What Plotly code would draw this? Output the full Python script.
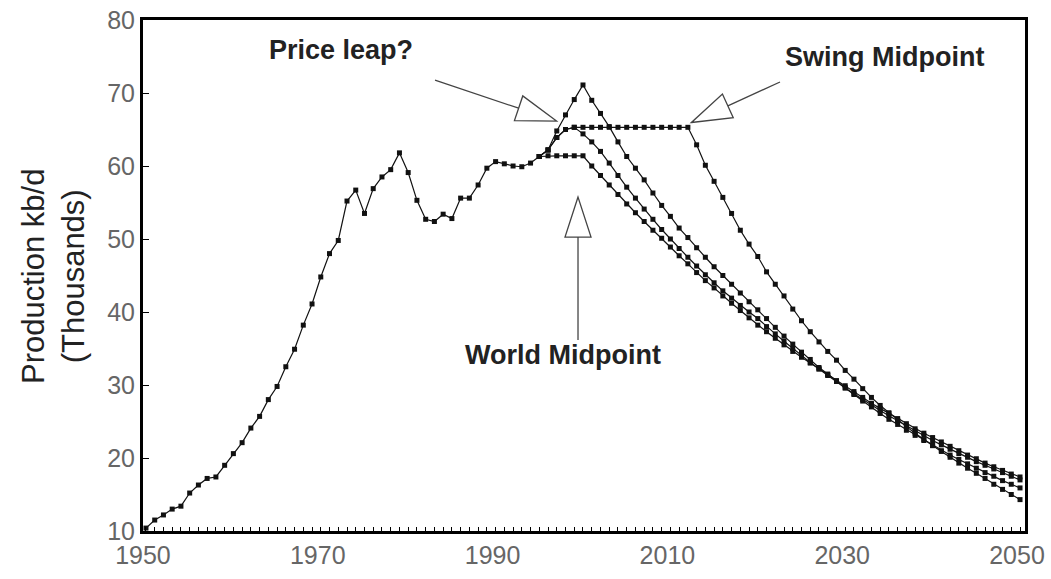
import math
import plotly.graph_objects as go

# world oil production, thousand kb/d (= million b/d)
hist_years = list(range(1950, 1996))
hist_prod = [10.4, 11.5, 12.2, 13.0, 13.4, 15.2, 16.3, 17.2, 17.4, 19.0,
             20.6, 22.1, 24.1, 25.7, 28.0, 29.8, 32.5, 34.9, 38.2, 41.1,
             44.8, 48.0, 49.8, 55.2, 56.7, 53.5, 56.9, 58.5, 59.5, 61.8,
             59.1, 55.3, 52.7, 52.4, 53.4, 52.8, 55.6, 55.6, 57.4, 59.7,
             60.6, 60.3, 60.0, 59.9, 60.4, 61.3]

# scenarios 1996-2050
proj_years = list(range(1996, 2051))
world_mid = [61.4, 61.4, 61.4, 61.4, 61.4,
             60.0, 58.7, 57.4, 56.1, 54.8, 53.6, 52.4, 51.2, 50.1, 48.9,
             47.7, 46.6, 45.4, 44.3, 43.3, 42.2, 41.2, 40.2, 39.2, 38.2,
             37.3, 36.4, 35.5, 34.6, 33.8, 33.0, 32.2, 31.4, 30.6, 29.9,
             29.1, 28.3, 27.5, 26.8, 26.1, 25.4, 24.7, 24.0, 23.4, 22.8,
             22.2, 21.6, 21.0, 20.4, 19.9, 19.3, 18.8, 18.3, 17.8, 17.4]
early_peak = [62.2, 63.9, 65.0, 65.3, 64.4,
              63.3, 62.0, 60.4, 58.7, 57.1, 55.6, 54.1, 52.7, 51.3, 50.0,
              48.7, 47.5, 46.3, 45.1, 44.0, 42.9, 41.9, 40.9, 40.0, 39.1,
              38.0, 37.0, 36.0, 35.0, 34.0, 33.1, 32.2, 31.3, 30.5, 29.6,
              28.8, 28.0, 27.3, 26.5, 25.8, 25.1, 24.4, 23.7, 23.1, 22.4,
              21.8, 21.2, 20.6, 20.1, 19.5, 19.0, 18.5, 18.0, 17.5, 17.0]
price_leap = [62.2, 64.8, 67.0, 69.1, 71.1,
              69.0, 67.2, 65.4, 63.3, 61.3, 59.7, 58.1, 56.3, 54.6, 53.1,
              51.5, 50.2, 48.8, 47.5, 46.2, 45.0, 43.8, 42.6, 41.4, 40.3,
              39.1, 37.9, 36.7, 35.6, 34.5, 33.5, 32.4, 31.5, 30.5, 29.6,
              28.7, 27.8, 27.0, 26.1, 25.3, 24.6, 23.8, 23.1, 22.4, 21.7,
              21.0, 20.4, 19.8, 19.2, 18.6, 18.0, 17.5, 16.9, 16.4, 15.9]
swing_mid = [62.2, 63.9, 65.0, 65.3, 65.3,
             65.3, 65.3, 65.3, 65.3, 65.3, 65.3, 65.3, 65.3, 65.3, 65.3,
             65.3, 65.3, 62.9, 60.1, 57.9, 55.7, 53.5, 51.2, 49.3, 47.6,
             45.5, 43.8, 42.2, 40.4, 38.8, 37.3, 35.9, 34.6, 33.4, 32.0,
             30.8, 29.5, 28.3, 27.2, 26.2, 25.2, 24.3, 23.4, 22.5, 21.7,
             20.9, 20.1, 19.3, 18.6, 17.9, 17.2, 16.4, 15.7, 15.0, 14.3]

x_tickvals = [1950, 1970, 1990, 2010, 2030, 2050]
y_tickvals = [10, 20, 30, 40, 50, 60, 70, 80]

X_RANGE = [1949.66, 2050.57]
Y_RANGE = [10, 80]
PLOT_W, PLOT_H = 882, 511

fig = go.Figure()

line_style = dict(color="#111111", width=1.2)
marker_style = dict(symbol="square", size=5, color="#111111")

fig.add_trace(go.Scatter(x=hist_years, y=hist_prod, mode="lines+markers",
                         line=line_style, marker=marker_style))
for series in [world_mid, early_peak, price_leap, swing_mid]:
    fig.add_trace(go.Scatter(x=[hist_years[-1]] + proj_years,
                             y=[hist_prod[-1]] + series,
                             mode="lines+markers",
                             line=line_style, marker=marker_style))


# hollow-headed arrows, head size given in pixels
sx = PLOT_W / (X_RANGE[1] - X_RANGE[0])
sy = PLOT_H / (Y_RANGE[1] - Y_RANGE[0])


def arrow(tail, tip, head_len=40, half_w=13):
    tx, ty = tail[0] * sx, tail[1] * sy
    px, py = tip[0] * sx, tip[1] * sy
    L = math.hypot(px - tx, py - ty)
    ux, uy = (px - tx) / L, (py - ty) / L
    bx, by = px - ux * head_len, py - uy * head_len
    c1 = ((bx - uy * half_w) / sx, (by + ux * half_w) / sy)
    c2 = ((bx + uy * half_w) / sx, (by - ux * half_w) / sy)
    base = (bx / sx, by / sy)
    col = "#444444"
    fig.add_shape(type="line", xref="x", yref="y",
                  x0=tail[0], y0=tail[1], x1=base[0], y1=base[1],
                  line=dict(color=col, width=1.3))
    fig.add_shape(type="path", xref="x", yref="y",
                  path=f"M {tip[0]},{tip[1]} L {c1[0]},{c1[1]} L {c2[0]},{c2[1]} Z",
                  fillcolor="white", line=dict(color=col, width=1.3))


arrow((1983.07, 71.78), (1996.97, 66.16))
arrow((2022.54, 71.51), (2012.41, 65.96))
arrow((1999.43, 36.16), (1999.43, 55.75))

label_font = dict(family="Liberation Sans, Arial", size=27, color="#222222")
fig.add_annotation(x=1972.3, y=75.9, text="<b>Price leap?</b>", showarrow=False,
                   font=label_font, xanchor="center", yanchor="middle")
fig.add_annotation(x=2034.5, y=74.9, text="<b>Swing Midpoint</b>", showarrow=False,
                   font=label_font, xanchor="center", yanchor="middle")
fig.add_annotation(x=1997.7, y=34.1, text="<b>World Midpoint</b>", showarrow=False,
                   font=label_font, xanchor="center", yanchor="middle")

# y axis title as rotated text
fig.add_annotation(xref="paper", yref="paper", x=-90 / PLOT_W, y=0.497,
                   text="Production kb/d<br>(Thousands)", textangle=-90,
                   showarrow=False, xanchor="center", yanchor="middle",
                   font=dict(family="Liberation Sans, Arial", size=31, color="#222222"))

tick_font = dict(family="Liberation Sans, Arial", size=25, color="#666666")

fig.update_layout(
    width=1051,
    height=579,
    margin=dict(l=143, r=26, t=20, b=48, autoexpand=False),
    paper_bgcolor="white",
    plot_bgcolor="white",
    showlegend=False,
    xaxis=dict(range=X_RANGE, tickvals=x_tickvals, ticks="inside", ticklen=4,
               tickcolor="black", tickwidth=1, showgrid=False, zeroline=False,
               showline=True, linecolor="black", linewidth=3, mirror=True,
               tickfont=tick_font, automargin=False, ticklabelshift=-3,
               minor=dict(dtick=1, tick0=1950, ticks="inside", ticklen=4,
                          tickcolor="black", tickwidth=1, showgrid=False)),
    yaxis=dict(range=Y_RANGE, tickvals=y_tickvals, ticks="inside", ticklen=6,
               tickcolor="black", tickwidth=1, showgrid=False, zeroline=False,
               showline=True, linecolor="black", linewidth=3, mirror=True,
               tickfont=tick_font, automargin=False),
)

fig.write_html("out.html", config={"displayModeBar": False},
               post_script="document.body.style.margin='0';")
